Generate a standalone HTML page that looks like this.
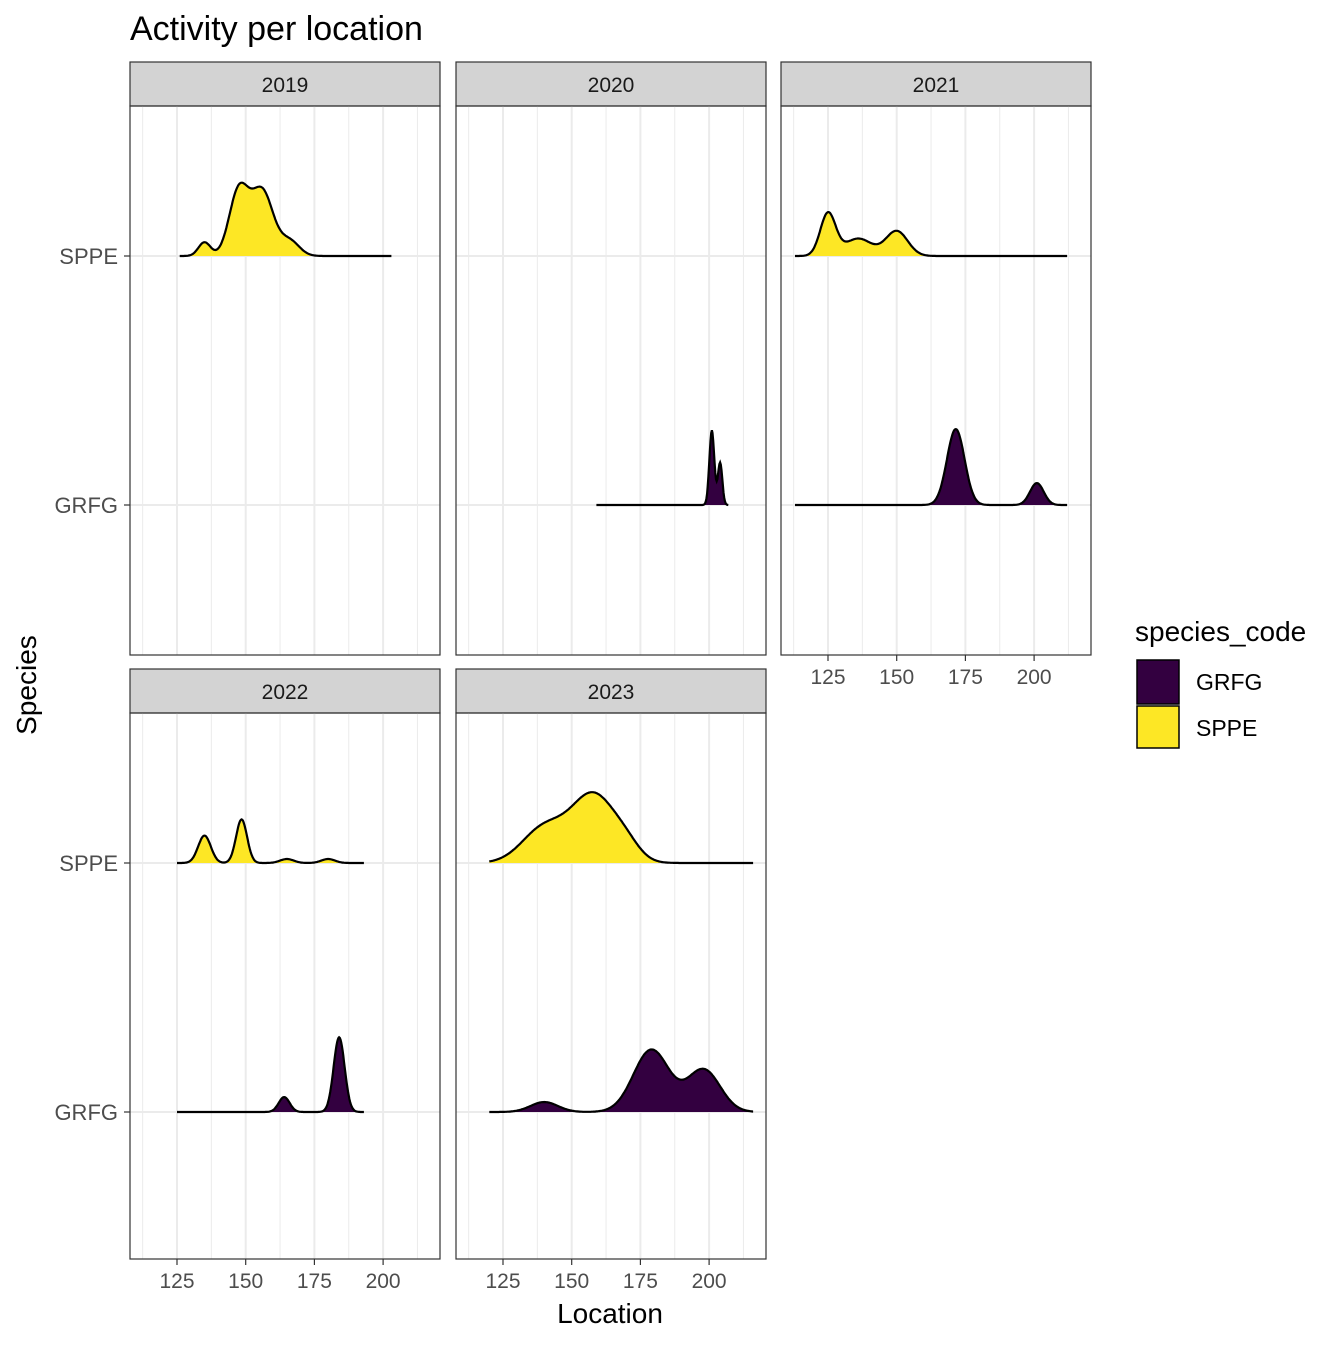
<!DOCTYPE html>
<html><head><meta charset="utf-8"><style>
body{margin:0;background:#fff}
svg text{font-family:"Liberation Sans",Arial,sans-serif}
</style></head><body>
<svg id="c" width="1344" height="1344" xmlns="http://www.w3.org/2000/svg">
<rect width="1344" height="1344" fill="#fff"/>
<text x="130" y="40" font-size="34" fill="#000">Activity per location</text>
<text x="610" y="1323" font-size="28" text-anchor="middle">Location</text>
<text transform="translate(36,685) rotate(-90)" font-size="28" text-anchor="middle">Species</text>
<g>
<text x="1135" y="641" font-size="28">species_code</text>
<rect x="1137" y="660" width="42" height="44" stroke="#000" stroke-width="1.5" style="fill:#330040"/>
<text x="1196" y="690" font-size="23">GRFG</text>
<rect x="1137" y="706" width="42" height="42" fill="#fde725" stroke="#000" stroke-width="1.5"/>
<text x="1196" y="736" font-size="23">SPPE</text>
</g>
</svg>
<script>
const years=["2019","2020","2021","2022","2023"];
const species=["GRFG","SPPE"];
const xTicks=[125,150,175,200];
const ridgeYear=["2019","2020","2021","2021","2022","2022","2023","2023"];
const ridgeSpecies=["SPPE","GRFG","SPPE","GRFG","SPPE","GRFG","SPPE","GRFG"];
const ridgeStart=[126,159,113,113,125,125,120,120];
const ridgeEnd=[203,207,212,212,193,193,216,216];
const compCenters=[[135,147.5,156,166],[201,204],[125,136,150],[171.5,201],[135,148.5,165,180],[164,184],[140,158,170],[140,179,198]];
const compSds=[[2.2,3.5,4,3.5],[0.9,0.8],[2.8,5,4],[3.2,2.5],[2.3,2,2.5,2.5],[2,2],[8,8,5],[5,6.5,6]];
const compHeights=[[0.055,0.26,0.26,0.06],[0.3,0.17],[0.17,0.07,0.1],[0.305,0.088],[0.11,0.175,0.016,0.016],[0.06,0.3],[0.14,0.27,0.05],[0.04,0.25,0.17]];

const svg=document.getElementById('c');const NS="http://www.w3.org/2000/svg";
function mk(t,a,p){const e=document.createElementNS(NS,t);for(const k in a)e.setAttribute(k,a[k]);(p||svg).appendChild(e);return e;}
const panels={"2019":[130,106,549],"2020":[456,106,549],"2021":[781,106,549],"2022":[130,713,546],"2023":[456,713,546]};
const PW=310,SH=44;
const xmin=107.9,xmax=220.7;
function xs(px,v){return px+(v-xmin)/(xmax-xmin)*PW;}
function ys(py,cat){return py+150+(1-cat)*249;}
years.forEach(y=>{
 const [px,py,PH]=panels[y];
 const g=mk('g',{});
 
 
 mk('rect',{x:px,y:py-SH,width:PW,height:SH,fill:'#d3d3d3',stroke:'#333','stroke-width':1.2},g);
 const st=mk('text',{x:px+PW/2,y:py-SH/2+8,'font-size':21,'text-anchor':'middle',fill:'#1a1a1a'},g);st.textContent=y;
 
 
 for(let v=112.5;v<220;v+=25)mk('line',{x1:xs(px,v),x2:xs(px,v),y1:py,y2:py+PH,stroke:'#ebebeb','stroke-width':1},g);
 xTicks.forEach(v=>mk('line',{x1:xs(px,v),x2:xs(px,v),y1:py,y2:py+PH,stroke:'#ebebeb','stroke-width':2},g));
 species.forEach((s,i)=>mk('line',{x1:px,x2:px+PW,y1:ys(py,i),y2:ys(py,i),stroke:'#ebebeb','stroke-width':2},g));
 ridgeYear.forEach((ry,r)=>{
  if(ry!==y)return;
  const ci=species.indexOf(ridgeSpecies[r]);const base=ys(py,ci);
  let pts=[];
  for(let v=ridgeStart[r];v<=ridgeEnd[r]+1e-9;v+=0.25){
   let d=0;compCenters[r].forEach((c,k)=>{d+=compHeights[r][k]*Math.exp(-0.5*((v-c)/compSds[r][k])**2);});
   pts.push([xs(px,v),base-d*249]);
  }
  const line=pts.map((p,i)=>(i?'L':'M')+p[0].toFixed(1)+','+p[1].toFixed(1)).join('');
  const area=line+'L'+pts[pts.length-1][0].toFixed(1)+','+base+'L'+pts[0][0].toFixed(1)+','+base+'Z';
  const a=mk('path',{d:area,fill:ci?'#fde725':'#330040'},g);
  
  
  mk('path',{d:line,fill:'none',stroke:'#000','stroke-width':2.2},g);
 });
 mk('rect',{x:px,y:py,width:PW,height:PH,fill:'none',stroke:'#333','stroke-width':1.2},g);
 if(px===130){species.forEach((s,i)=>{
  mk('line',{x1:124,x2:130,y1:ys(py,i),y2:ys(py,i),stroke:'#333','stroke-width':1.2});
  const t=mk('text',{x:118,y:ys(py,i)+8,'font-size':22,'text-anchor':'end',fill:'#4d4d4d'});t.textContent=s;
  
  
 });}
 if(y!=="2019"&&y!=="2020"){xTicks.forEach(v=>{
  mk('line',{x1:xs(px,v),x2:xs(px,v),y1:py+PH,y2:py+PH+6,stroke:'#333','stroke-width':1.2});
  const t=mk('text',{x:xs(px,v),y:py+PH+29,'font-size':21,'text-anchor':'middle',fill:'#4d4d4d'});t.textContent=v;
  
  
 });}
});
</script>
</body></html>
